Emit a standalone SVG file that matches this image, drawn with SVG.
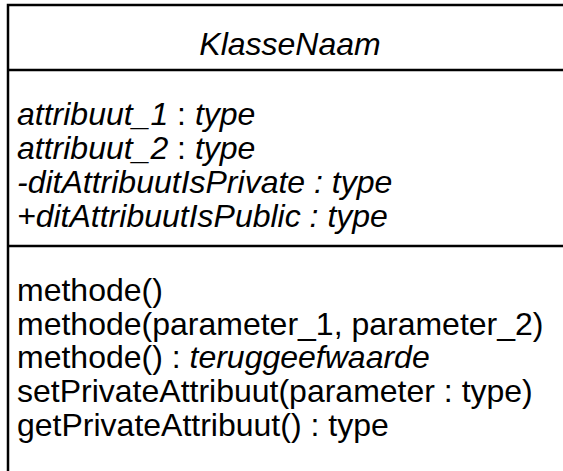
<svg xmlns="http://www.w3.org/2000/svg" width="563" height="471" viewBox="0 0 563 471">
<style>
.t{font-family:"Liberation Sans",Arial,Helvetica,sans-serif;font-size:32px;fill:#000}
.i{font-style:italic}
.n{font-style:normal}
.ln{stroke:#000;stroke-width:2.5;fill:none}
</style>
<rect width="563" height="471" fill="#fff"/>
<g id="class-klassenaam">
<rect class="ln" x="8" y="5" width="620" height="520"/>
<line class="ln" x1="8" y1="70" x2="563" y2="70"/>
<line class="ln" x1="8" y1="246" x2="563" y2="246"/>
<text class="t i" x="290" y="55" text-anchor="middle">KlasseNaam</text>
<text class="t i" x="17" y="125">attribuut_1<tspan class="n"> : </tspan>type</text>
<text class="t i" x="17" y="159">attribuut_2<tspan class="n"> : </tspan>type</text>
<text class="t i" x="17" y="193">-ditAttribuutIsPrivate : type</text>
<text class="t i" x="17" y="227">+ditAttribuutIsPublic : type</text>
<text class="t" x="17" y="301">methode()</text>
<text class="t" x="17" y="335">methode(parameter_1, parameter_2)</text>
<text class="t" x="17" y="368">methode() : <tspan class="i">teruggeefwaarde</tspan></text>
<text class="t" x="17" y="402">setPrivateAttribuut(parameter : type)</text>
<text class="t" x="17" y="436">getPrivateAttribuut() : type</text>
</g>
<g id="connectors"/>
</svg>
